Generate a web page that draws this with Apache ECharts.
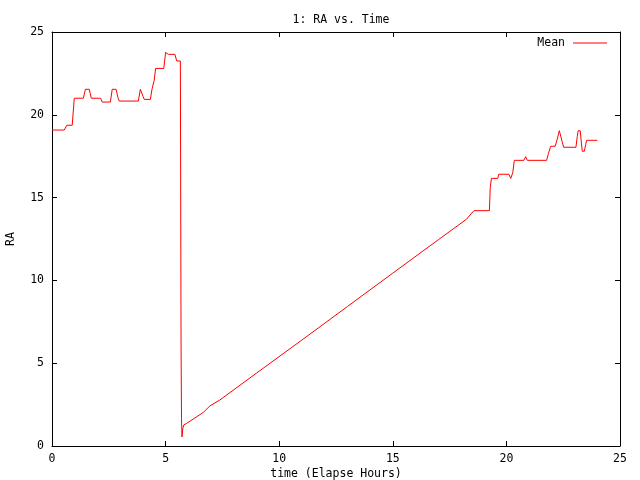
<!DOCTYPE html>
<html>
<head>
<meta charset="utf-8">
<script src="https://cdn.jsdelivr.net/npm/echarts@6/dist/echarts.min.js"></script>
<style>html,body{margin:0;padding:0;background:#fff;}#c{width:640px;height:480px;}</style>
</head>
<body>
<div id="c"></div>
<script>
var chartTitle = "1: RA vs. Time";
var xName = "time (Elapse Hours)";
var yName = "RA";
var seriesName = "Mean";
var timeHours = [0.00,0.54,0.65,0.89,0.98,1.38,1.47,1.64,1.73,2.14,2.21,2.57,2.65,2.82,2.90,2.96,3.80,3.89,3.95,4.01,4.06,4.33,4.40,4.50,4.56,4.92,5.00,5.05,5.12,5.41,5.49,5.65,5.66,5.68,5.70,5.72,5.76,5.80,5.93,6.22,6.66,6.95,7.39,9.00,11.00,13.00,15.00,17.00,18.25,18.40,18.57,19.25,19.29,19.34,19.62,19.66,20.11,20.19,20.28,20.35,20.77,20.85,20.92,21.77,21.85,21.95,22.15,22.25,22.33,22.40,22.45,22.52,23.06,23.12,23.16,23.25,23.30,23.34,23.43,23.49,23.53,24.00];
var raMean = [19.08,19.08,19.37,19.37,21.00,21.00,21.54,21.54,21.00,21.00,20.77,20.77,21.54,21.54,21.05,20.83,20.83,21.54,21.54,21.10,20.93,20.93,21.54,22.10,22.80,22.80,23.77,23.77,23.65,23.65,23.25,23.25,17.57,6.24,1.67,0.55,1.07,1.27,1.37,1.63,2.03,2.42,2.78,4.40,6.40,8.42,10.44,12.45,13.70,13.95,14.21,14.21,15.62,16.16,16.16,16.41,16.41,16.16,16.50,17.25,17.25,17.47,17.25,17.25,17.67,18.10,18.10,18.60,19.04,19.04,18.40,18.04,18.04,18.70,19.04,19.04,18.30,17.80,17.80,18.20,18.46,18.46];
var xTicks = {min:0, max:25, interval:5};
var yTicks = {min:0, max:25, interval:5};

var pts = timeHours.map(function(t,i){return [t, raMean[i]];});
var font = "DejaVu Sans Mono";
var txt = {fontFamily: font, fontSize: 11.5, color: '#000'};
var axLine = {show:true, onZero:false, lineStyle:{color:'#000', width:1}};
var tick = {show:true, inside:true, length:5, lineStyle:{color:'#000', width:1}};

var chart = echarts.init(document.getElementById('c'), null, {renderer:'canvas'});
chart.setOption({
  animation: false,
  backgroundColor: '#fff',
  title: {text: chartTitle, left: 336, top: 9, textAlign: 'center',
    textStyle: {fontFamily: font, fontSize: 11.5, fontWeight: 'normal', color: '#000'}},
  legend: {data:[seriesName], right: 33, top: 37, padding: 0, align: 'right',
    icon: 'rect', itemWidth: 34, itemHeight: 1, itemGap: 0,
    textStyle: {fontFamily: font, fontSize: 11.5, color:'#000', padding:[0,3,0,0]}},
  grid: {left: 52, top: 32, right: 20, bottom: 34, containLabel: false, outerBoundsMode: 'none'},
  xAxis: [
    {type:'value', min:xTicks.min, max:xTicks.max, interval:xTicks.interval, position:'bottom',
     name: xName, nameLocation:'middle', nameGap: 22, nameMoveOverlap: false, nameTextStyle: txt,
     axisLine: axLine, axisTick: tick, splitLine:{show:false},
     axisLabel: Object.assign({margin: 7}, txt)},
    {type:'value', min:xTicks.min, max:xTicks.max, interval:xTicks.interval, position:'top',
     axisLine: axLine, axisTick: tick, splitLine:{show:false}, axisLabel:{show:false}}
  ],
  yAxis: [
    {type:'value', min:yTicks.min, max:yTicks.max, interval:yTicks.interval, position:'left',
     name: yName, nameLocation:'middle', nameGap: 35, nameMoveOverlap: false, nameRotate: 90, nameTextStyle: txt,
     axisLine: axLine, axisTick: tick, splitLine:{show:false},
     axisLabel: Object.assign({margin: 8}, txt)},
    {type:'value', min:yTicks.min, max:yTicks.max, interval:yTicks.interval, position:'right',
     axisLine: axLine, axisTick: tick, splitLine:{show:false}, axisLabel:{show:false}}
  ],
  series: [{
    name: seriesName, type:'line', data: pts, xAxisIndex:0, yAxisIndex:0,
    showSymbol:false, symbol:'none',
    lineStyle:{color:'#ff0000', width:1}, itemStyle:{color:'#ff0000'}
  }]
});
</script>
</body>
</html>
